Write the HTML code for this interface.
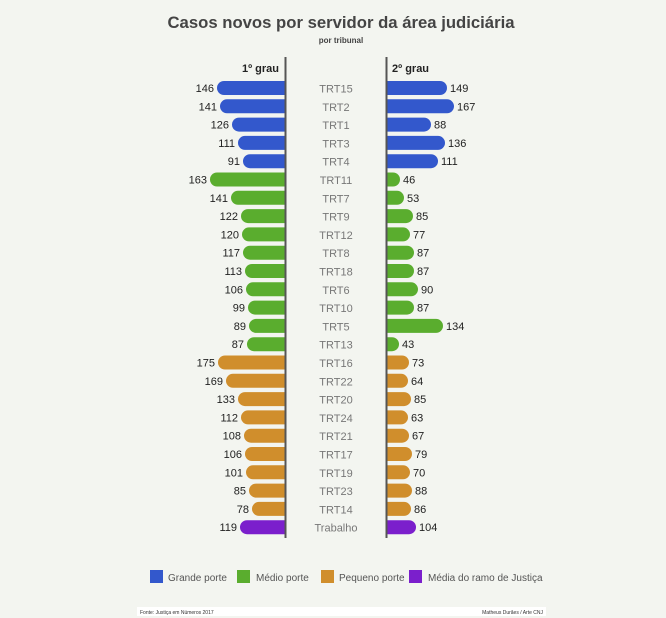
<!DOCTYPE html>
<html><head><meta charset="utf-8"><style>
html,body{margin:0;padding:0;background:#f3f5f0;}
svg{display:block;font-family:"Liberation Sans",sans-serif;}
</style></head><body>
<svg width="666" height="618" viewBox="0 0 666 618">
<defs>
<clipPath id="cl"><rect x="0" y="0" width="285" height="618"/></clipPath>
<clipPath id="cr"><rect x="386" y="0" width="280" height="618"/></clipPath>
</defs>
<rect width="666" height="618" fill="#f3f5f0"/>
<text x="341" y="28" text-anchor="middle" font-size="17" font-weight="bold" fill="#444" textLength="347" lengthAdjust="spacingAndGlyphs">Casos novos por servidor da área judiciária</text>
<text x="341" y="43" text-anchor="middle" font-size="8" font-weight="bold" fill="#444">por tribunal</text>
<text x="279" y="72" text-anchor="end" font-size="11" font-weight="bold" fill="#222">1º grau</text>
<text x="392" y="72" font-size="11" font-weight="bold" fill="#222">2º grau</text>
<g id="rows" font-size="11"></g>
<line x1="285.5" y1="57" x2="285.5" y2="538" stroke="#555" stroke-width="2"/>
<line x1="386.5" y1="57" x2="386.5" y2="538" stroke="#555" stroke-width="2"/>
<rect x="150" y="570" width="13" height="13" fill="#3358cc"/><text x="168" y="581" font-size="10" fill="#555">Grande porte</text>
<rect x="237" y="570" width="13" height="13" fill="#5aad2e"/><text x="256" y="581" font-size="10" fill="#555">Médio porte</text>
<rect x="321" y="570" width="13" height="13" fill="#d08e2c"/><text x="339" y="581" font-size="10" fill="#555">Pequeno porte</text>
<rect x="409" y="570" width="13" height="13" fill="#7b1fcc"/><text x="428" y="581" font-size="10" fill="#555">Média do ramo de Justiça</text>
<rect x="137" y="607" width="409" height="9" fill="#fff"/>
<text x="140" y="614" font-size="5" fill="#333">Fonte: Justiça em Números 2017</text>
<text x="543" y="614" text-anchor="end" font-size="5" fill="#333">Matheus Durães / Arte CNJ</text>
</svg>
<script>
var d=[
["TRT15",146,217,149,447,"#3358cc"],["TRT2",141,220,167,454,"#3358cc"],["TRT1",126,232,88,431,"#3358cc"],["TRT3",111,238,136,445,"#3358cc"],["TRT4",91,243,111,438,"#3358cc"],
["TRT11",163,210,46,400,"#5aad2e"],["TRT7",141,231,53,404,"#5aad2e"],["TRT9",122,241,85,413,"#5aad2e"],["TRT12",120,242,77,410,"#5aad2e"],["TRT8",117,243,87,414,"#5aad2e"],["TRT18",113,245,87,414,"#5aad2e"],["TRT6",106,246,90,418,"#5aad2e"],["TRT10",99,248,87,414,"#5aad2e"],["TRT5",89,249,134,443,"#5aad2e"],["TRT13",87,247,43,399,"#5aad2e"],
["TRT16",175,218,73,409,"#d08e2c"],["TRT22",169,226,64,408,"#d08e2c"],["TRT20",133,238,85,411,"#d08e2c"],["TRT24",112,241,63,408,"#d08e2c"],["TRT21",108,244,67,409,"#d08e2c"],["TRT17",106,245,79,412,"#d08e2c"],["TRT19",101,246,70,410,"#d08e2c"],["TRT23",85,249,88,412,"#d08e2c"],["TRT14",78,252,86,411,"#d08e2c"],
["Trabalho",119,240,104,416,"#7b1fcc"]];
var s="";
d.forEach(function(r,i){var y=88+i*18.3;
s+='<rect clip-path="url(#cl)" x="'+r[2]+'" y="'+(y-7)+'" width="'+(296-r[2])+'" height="14" rx="7" fill="'+r[5]+'"/>';
s+='<rect clip-path="url(#cr)" x="375" y="'+(y-7)+'" width="'+(r[4]-375)+'" height="14" rx="7" fill="'+r[5]+'"/>';
s+='<text x="'+(r[2]-3)+'" y="'+(y+4)+'" text-anchor="end" fill="#222">'+r[1]+'</text>';
s+='<text x="'+(r[4]+3)+'" y="'+(y+4)+'" fill="#222">'+r[3]+'</text>';
s+='<text x="336" y="'+(y+4.5)+'" text-anchor="middle" fill="#777">'+r[0]+'</text>';});
document.getElementById("rows").innerHTML=s;
</script>
</body></html>
